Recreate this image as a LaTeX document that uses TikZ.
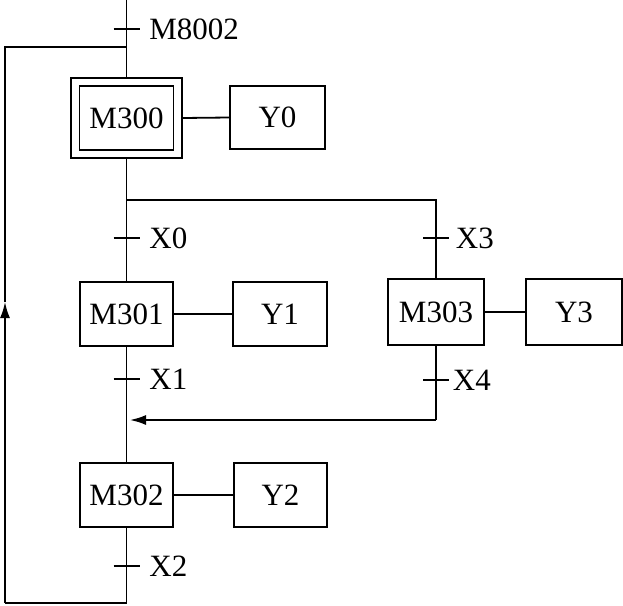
\documentclass[tikz,border=0pt]{standalone}
\usepackage{fontspec}
\setmainfont{Liberation Serif}
\usetikzlibrary{arrows.meta}
\begin{document}
\begin{tikzpicture}[x=1pt,y=-1pt,
  line width=1.8pt,
  stepbox/.style={draw,rectangle,inner sep=0pt,font=\fontsize{31}{35}\selectfont},
  cond/.style={anchor=west,inner sep=0pt,font=\fontsize{31}{35}\selectfont},
  tick/.style={line width=1.3pt},
  arr/.style={-{Latex[length=16pt,width=10pt]}}]
\useasboundingbox (0,0) rectangle (623,605);
% steps
\node[stepbox,minimum width=111pt,minimum height=80pt] (m300) at (126.5,118) {};
\node[stepbox,minimum width=94pt,minimum height=64pt] (m300in) at (126.5,118) {M300};
\node[stepbox,minimum width=95pt,minimum height=63pt] (y0) at (277.5,117.5) {Y0};
\node[stepbox,minimum width=93pt,minimum height=64pt] (m301) at (126.5,314) {M301};
\node[stepbox,minimum width=94pt,minimum height=64pt] (y1) at (280,314) {Y1};
\node[stepbox,minimum width=96pt,minimum height=66pt] (m303) at (436,312) {M303};
\node[stepbox,minimum width=96pt,minimum height=66pt] (y3) at (574,312) {Y3};
\node[stepbox,minimum width=93pt,minimum height=64pt] (m302) at (126.5,495) {M302};
\node[stepbox,minimum width=93pt,minimum height=64pt] (y2) at (280.5,495) {Y2};
% coordinates
\coordinate (top) at (126.5,0);
\coordinate (loopj) at (126.5,47);
\coordinate (lt) at (5,47);
\coordinate (lb) at (5,603);
\coordinate (bot) at (126.5,603);
\coordinate (la) at (5,302);
\coordinate (br) at (126.5,200);
\coordinate (brr) at (436,200);
\coordinate (mr) at (436,420);
\coordinate (ml) at (130,420);
% action connectors
\draw (m300.east) -- (y0.west);
\draw (m301.east) -- (y1.west);
\draw (m303.east) -- (y3.west);
\draw (m302.east) -- (y2.west);
% main flow
\draw (top) -- (m300.north);
\draw (m300.south) -- (m301.north);
\draw (m301.south) -- (m302.north);
\draw (m302.south) -- (bot) -- (lb);
\draw[arr] (lb) -- (la);
\draw (la) -- (lt) -- (loopj);
\draw (br) -- (brr) -- (m303.north);
\draw (m303.south) -- (mr);
\draw[arr] (mr) -- (ml);
% transitions
\foreach \n/\x/\y/\t/\g in {a/126.5/29/M8002/22, b/126.5/238/X0/22, c/436/238/X3/19, d/126.5/379/X1/22, e/436/380/X4/16, f/126.5/566/X2/22}{
  \coordinate (t\n) at (\x,\y);
  \draw[tick] ([xshift=-13pt]t\n) -- ([xshift=13pt]t\n);
  \node[cond] (l\n) at ([xshift=\g pt]t\n) {\t};
}
\end{tikzpicture}
\end{document}
